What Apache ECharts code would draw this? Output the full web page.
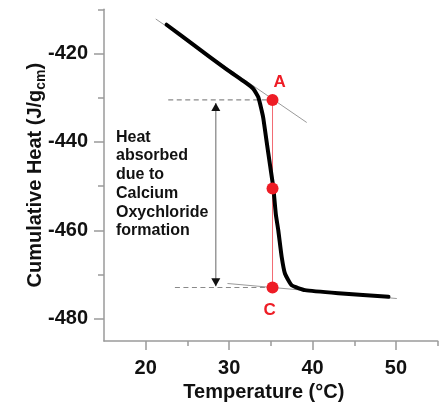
<!DOCTYPE html>
<html>
<head>
<meta charset="utf-8">
<script src="https://cdn.jsdelivr.net/npm/echarts@6/dist/echarts.min.js"></script>
<style>
  html, body { margin: 0; padding: 0; background: #fff; }
  #chart { width: 440px; height: 407px; }
</style>
</head>
<body>
<div id="chart"></div>
<script>
// Cumulative heat curve vs temperature
const temperature = [22.5, 25.7, 29.7, 31.9, 32.9, 33.5, 33.9, 34.1, 34.5, 34.9, 35.3, 35.6, 35.9, 36.3, 36.7, 37.5, 39.1, 43.1, 49.1];
const cumulativeHeat = [-413.5, -418.0, -423.6, -426.5, -428.0, -429.9, -432.9, -434.7, -440.0, -445.2, -450.4, -456.4, -460.1, -466.0, -469.8, -472.4, -473.5, -474.2, -475.0];

// Tangent lines before and after the transition
const upperTangentX = [21.2, 39.3];
const upperTangentY = [-412.2, -435.6];
const lowerTangentX = [29.8, 50.1];
const lowerTangentY = [-472.0, -475.4];

// Marked points: A (onset), midpoint, C (end)
const markerNames = ['A', '', 'C'];
const markerX = [35.2, 35.2, 35.2];
const markerY = [-430.5, -450.5, -472.9];

// Reference level lines and the double arrow showing the heat step
const levelStartX = [22.7, 23.5];
const arrowX = 28.4;
const arrowTopY = -431.2;
const arrowBottomY = -472.6;

// Axis ticks
const xMajorTicks = [20, 30, 40, 50];
const xMinorTicks = [25, 35, 45, 55];
const yMajorTicks = [-420, -440, -460, -480];
const yMinorTicks = [-410, -430, -450, -470];

const annotationText = 'Heat\nabsorbed\ndue to\nCalcium\nOxychloride\nformation';

const FONT = '"Liberation Sans", Arial, sans-serif';
const AXIS_COLOR = '#9a9a9a';
const RED = '#ee1c25';
const GRAY = '#8a8a8a';

const pairs = (xs, ys) => xs.map((x, i) => [x, ys[i]]);

const chart = echarts.init(document.getElementById('chart'), null, { renderer: 'canvas' });

const baseX = { type: 'value', min: 15, max: 55, splitLine: { show: false } };
const baseY = { type: 'value', min: -485, max: -410, splitLine: { show: false } };

chart.setOption({
  animation: false,
  backgroundColor: '#fff',
  grid: { left: 104, right: 2.3, top: 9.25, bottom: 61.3 },
  xAxis: [
    Object.assign({}, baseX, {
      name: 'Temperature (°C)',
      nameLocation: 'middle',
      nameGap: 41,
      nameMoveOverlap: false,
      nameTextStyle: { fontFamily: FONT, fontSize: 20, fontWeight: 'bold', color: '#111', padding: [0, 14, 0, 0] },
      axisLine: { show: true, lineStyle: { color: AXIS_COLOR, width: 1.5 } },
      axisTick: { show: true, customValues: xMajorTicks, length: 9, lineStyle: { color: AXIS_COLOR, width: 1.5 } },
      axisLabel: { customValues: xMajorTicks, margin: 17, fontFamily: FONT, fontSize: 20, fontWeight: 'bold', color: '#111' }
    }),
    Object.assign({}, baseX, {
      position: 'bottom',
      axisLine: { show: false },
      axisTick: { show: true, customValues: xMinorTicks, length: 5, lineStyle: { color: AXIS_COLOR, width: 1.5 } },
      axisLabel: { show: false }
    })
  ],
  yAxis: [
    Object.assign({}, baseY, {
      name: '{t|Cumulative Heat (J/g}{s|cm}{t|)}',
      nameLocation: 'middle',
      nameGap: 56,
      nameMoveOverlap: false,
      nameTextStyle: {
        color: '#111',
        rich: {
          t: { fontFamily: FONT, fontSize: 20, fontWeight: 'bold', color: '#111', lineHeight: 26 },
          s: { fontFamily: FONT, fontSize: 14, fontWeight: 'bold', color: '#111', lineHeight: 14, verticalAlign: 'bottom' }
        }
      },
      axisLine: { show: true, lineStyle: { color: AXIS_COLOR, width: 1.5 } },
      axisTick: { show: true, customValues: yMajorTicks, length: 10, lineStyle: { color: AXIS_COLOR, width: 1.5 } },
      axisLabel: { customValues: yMajorTicks, margin: 16, fontFamily: FONT, fontSize: 20, fontWeight: 'bold', color: '#111' }
    }),
    Object.assign({}, baseY, {
      position: 'left',
      axisLine: { show: false },
      axisTick: { show: true, customValues: yMinorTicks, length: 6, lineStyle: { color: AXIS_COLOR, width: 1.5 } },
      axisLabel: { show: false }
    })
  ],
  graphic: [{
    type: 'text',
    left: 116,
    top: 128,
    z: 10,
    style: {
      text: annotationText,
      fontFamily: FONT,
      fontSize: 16,
      fontWeight: 'bold',
      lineHeight: 18.7,
      fill: '#111'
    }
  }],
  series: [
    // upper tangent
    {
      type: 'line', data: pairs(upperTangentX, upperTangentY), symbol: 'none',
      lineStyle: { color: '#9a9a9a', width: 1 }, z: 1, silent: true
    },
    // lower tangent
    {
      type: 'line', data: pairs(lowerTangentX, lowerTangentY), symbol: 'none',
      lineStyle: { color: '#9a9a9a', width: 1 }, z: 1, silent: true
    },
    // dashed level lines at A and C
    {
      type: 'line', data: [[levelStartX[0], markerY[0]], [markerX[0], markerY[0]]], symbol: 'none',
      lineStyle: { color: GRAY, width: 1.2, type: [5, 3.5] }, z: 1, silent: true
    },
    {
      type: 'line', data: [[levelStartX[1], markerY[2]], [markerX[2], markerY[2]]], symbol: 'none',
      lineStyle: { color: GRAY, width: 1.2, type: [5, 3.5] }, z: 1, silent: true
    },
    // red connector A -> C
    {
      type: 'line', data: pairs(markerX, markerY), symbol: 'none',
      lineStyle: { color: '#f26a72', width: 1 }, z: 2, silent: true
    },
    // arrow shaft
    {
      type: 'line', data: [[arrowX, arrowTopY], [arrowX, arrowBottomY]], symbol: 'none',
      lineStyle: { color: GRAY, width: 1.3 }, z: 2, silent: true
    },
    // arrow heads
    {
      type: 'scatter',
      data: [
        { value: [arrowX, arrowTopY], symbolRotate: 0, symbolOffset: [0, '50%'] },
        { value: [arrowX, arrowBottomY], symbolRotate: 180, symbolOffset: [0, '-50%'] }
      ],
      symbol: 'triangle', symbolSize: [9, 8],
      itemStyle: { color: '#111', opacity: 1 }, z: 3, silent: true
    },
    // measured curve
    {
      type: 'line', data: pairs(temperature, cumulativeHeat), symbol: 'none', smooth: 0.15,
      lineStyle: { color: '#000', width: 4, cap: 'round', join: 'round' }, z: 4, silent: true
    },
    // red markers with labels
    {
      type: 'scatter',
      data: markerX.map((x, i) => ({
        value: [x, markerY[i]],
        label: {
          show: markerNames[i] !== '',
          formatter: markerNames[i],
          position: i === 0 ? 'top' : 'bottom',
          offset: i === 0 ? [7, 2] : [-3, 3]
        }
      })),
      symbol: 'circle', symbolSize: 12,
      itemStyle: { color: RED, opacity: 1 },
      label: { fontFamily: FONT, fontSize: 17, fontWeight: 'bold', color: RED },
      z: 5, silent: true
    }
  ]
});
</script>
</body>
</html>
